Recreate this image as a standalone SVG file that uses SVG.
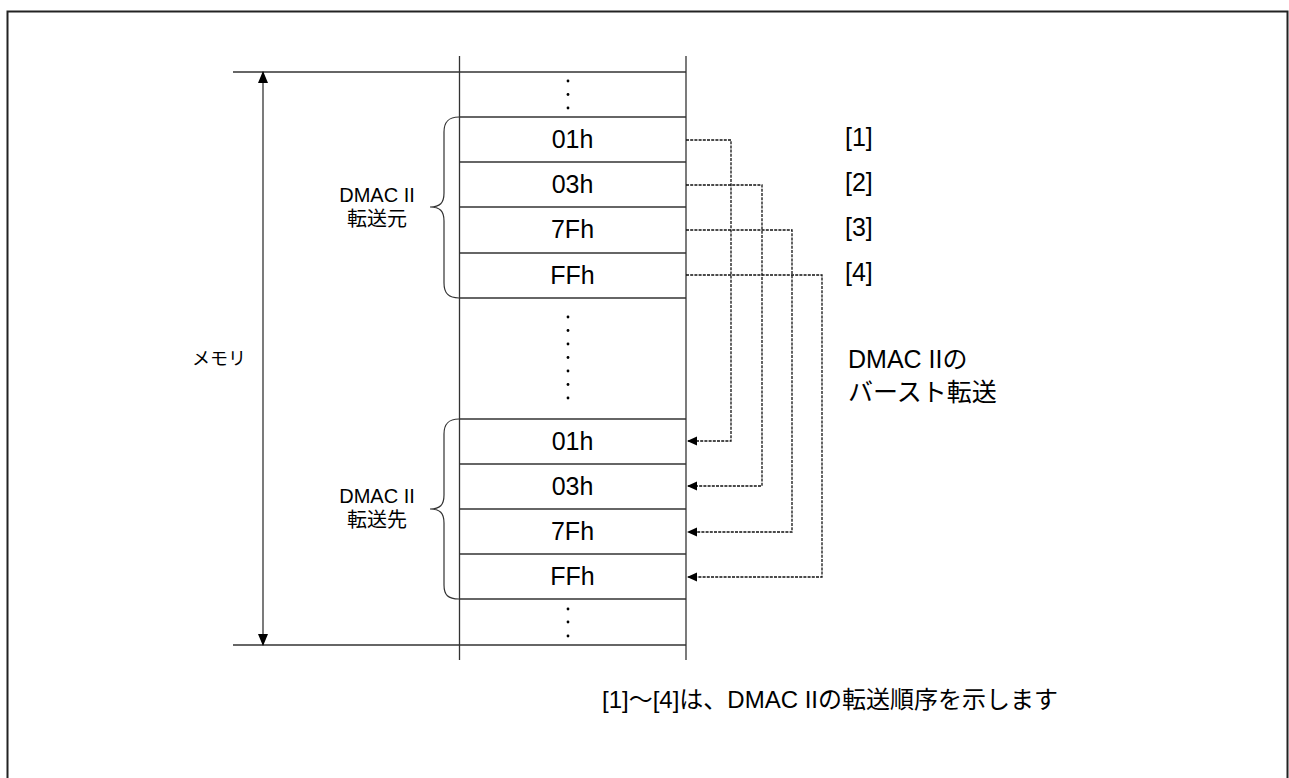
<svg xmlns="http://www.w3.org/2000/svg" width="1289" height="778" viewBox="0 0 1289 778">
<defs>
<style>
.ln{stroke:#333;stroke-width:1.3;fill:none}
.br{stroke:#333;stroke-width:1.2;fill:none}
.dash{stroke:#111;stroke-width:1.3;fill:none;stroke-dasharray:3 1.2}
.t{font-family:"Liberation Sans",Arial,"Noto Sans CJK JP",sans-serif;fill:#000}
.cell{font-size:25px;text-anchor:middle}
.ord{font-size:25px}
.side{font-size:20px;text-anchor:middle}
.dot{fill:#000}
</style>
<marker id="ah" markerWidth="10" markerHeight="10" refX="9" refY="5" orient="auto" markerUnits="userSpaceOnUse">
<path d="M0,0.5 L10,5 L0,9.5 Z" fill="#000"/>
</marker>
<marker id="ah2" markerWidth="12" markerHeight="12" refX="11" refY="6" orient="auto-start-reverse" markerUnits="userSpaceOnUse">
<path d="M0,1 L12,6 L0,11 Z" fill="#000"/>
</marker>
</defs>
<rect width="1289" height="778" fill="#fff"/>
<rect x="7.5" y="11.5" width="1280" height="790" fill="none" stroke="#222" stroke-width="2"/>

<g id="memory">
<line class="ln" x1="459.5" y1="56" x2="459.5" y2="660"/>
<line class="ln" x1="686" y1="56" x2="686" y2="660"/>
<line class="ln" x1="233" y1="72" x2="686" y2="72"/>
<line class="ln" x1="233" y1="645" x2="686" y2="645"/>
<line class="ln" x1="459.5" y1="117" x2="686" y2="117"/>
<line class="ln" x1="459.5" y1="162" x2="686" y2="162"/>
<line class="ln" x1="459.5" y1="207" x2="686" y2="207"/>
<line class="ln" x1="459.5" y1="253" x2="686" y2="253"/>
<line class="ln" x1="459.5" y1="298" x2="686" y2="298"/>
<line class="ln" x1="459.5" y1="419" x2="686" y2="419"/>
<line class="ln" x1="459.5" y1="464" x2="686" y2="464"/>
<line class="ln" x1="459.5" y1="509" x2="686" y2="509"/>
<line class="ln" x1="459.5" y1="554" x2="686" y2="554"/>
<line class="ln" x1="459.5" y1="599" x2="686" y2="599"/>
<g class="dot">
<circle cx="568" cy="81" r="1.4"/><circle cx="568" cy="94.5" r="1.4"/><circle cx="568" cy="108" r="1.4"/>
<circle cx="568" cy="317" r="1.4"/><circle cx="568" cy="330.5" r="1.4"/><circle cx="568" cy="344" r="1.4"/><circle cx="568" cy="357.5" r="1.4"/><circle cx="568" cy="371" r="1.4"/><circle cx="568" cy="384.5" r="1.4"/><circle cx="568" cy="398" r="1.4"/>
<circle cx="568" cy="609" r="1.4"/><circle cx="568" cy="622" r="1.4"/><circle cx="568" cy="636" r="1.4"/>
</g>
</g>

<g id="src-01h"><text class="t cell" x="572.5" y="148">01h</text></g>
<g id="src-03h"><text class="t cell" x="572.5" y="193">03h</text></g>
<g id="src-7Fh"><text class="t cell" x="572.5" y="238">7Fh</text></g>
<g id="src-FFh"><text class="t cell" x="572.5" y="284">FFh</text></g>
<g id="dst-01h"><text class="t cell" x="572.5" y="450">01h</text></g>
<g id="dst-03h"><text class="t cell" x="572.5" y="495">03h</text></g>
<g id="dst-7Fh"><text class="t cell" x="572.5" y="540">7Fh</text></g>
<g id="dst-FFh"><text class="t cell" x="572.5" y="585">FFh</text></g>

<g id="src-brace">
<path class="br" d="M459,117 C448,117 444,122 444,132 L444,193 C444,203 440,207 430,207 C440,207 444,211 444,221 L444,283 C444,293 448,298 459,298"/>
<text class="t side" x="377" y="202">DMAC II</text>
<text class="t side" x="377" y="226">転送元</text>
</g>
<g id="dst-brace">
<path class="br" d="M459,419 C448,419 444,424 444,434 L444,495 C444,505 440,509 430,509 C440,509 444,513 444,523 L444,585 C444,595 448,599 459,599"/>
<text class="t side" x="377" y="503">DMAC II</text>
<text class="t side" x="377" y="527">転送先</text>
</g>

<g id="memory-label">
<line class="ln" x1="263" y1="72" x2="263" y2="645" marker-start="url(#ah2)" marker-end="url(#ah2)"/>
<text class="t" x="192" y="365" font-size="18">メモリ</text>
</g>

<g id="connectors">
<path class="dash" d="M686,140 H731 V441 H688" marker-end="url(#ah)"/>
<path class="dash" d="M686,185 H762 V486 H688" marker-end="url(#ah)"/>
<path class="dash" d="M686,230 H792 V532 H688" marker-end="url(#ah)"/>
<path class="dash" d="M686,275 H822 V577 H688" marker-end="url(#ah)"/>
</g>

<g id="order-labels">
<text class="t ord" x="845" y="146">[1]</text>
<text class="t ord" x="845" y="191">[2]</text>
<text class="t ord" x="845" y="236">[3]</text>
<text class="t ord" x="845" y="281">[4]</text>
</g>

<g id="burst-label">
<text class="t" x="848" y="368" font-size="25">DMAC IIの</text>
<text class="t" x="848" y="401" font-size="25">バースト転送</text>
</g>

<g id="note">
<text class="t" x="602" y="708" font-size="24">[1]〜[4]は、DMAC IIの転送順序を示します</text>
</g>
</svg>
